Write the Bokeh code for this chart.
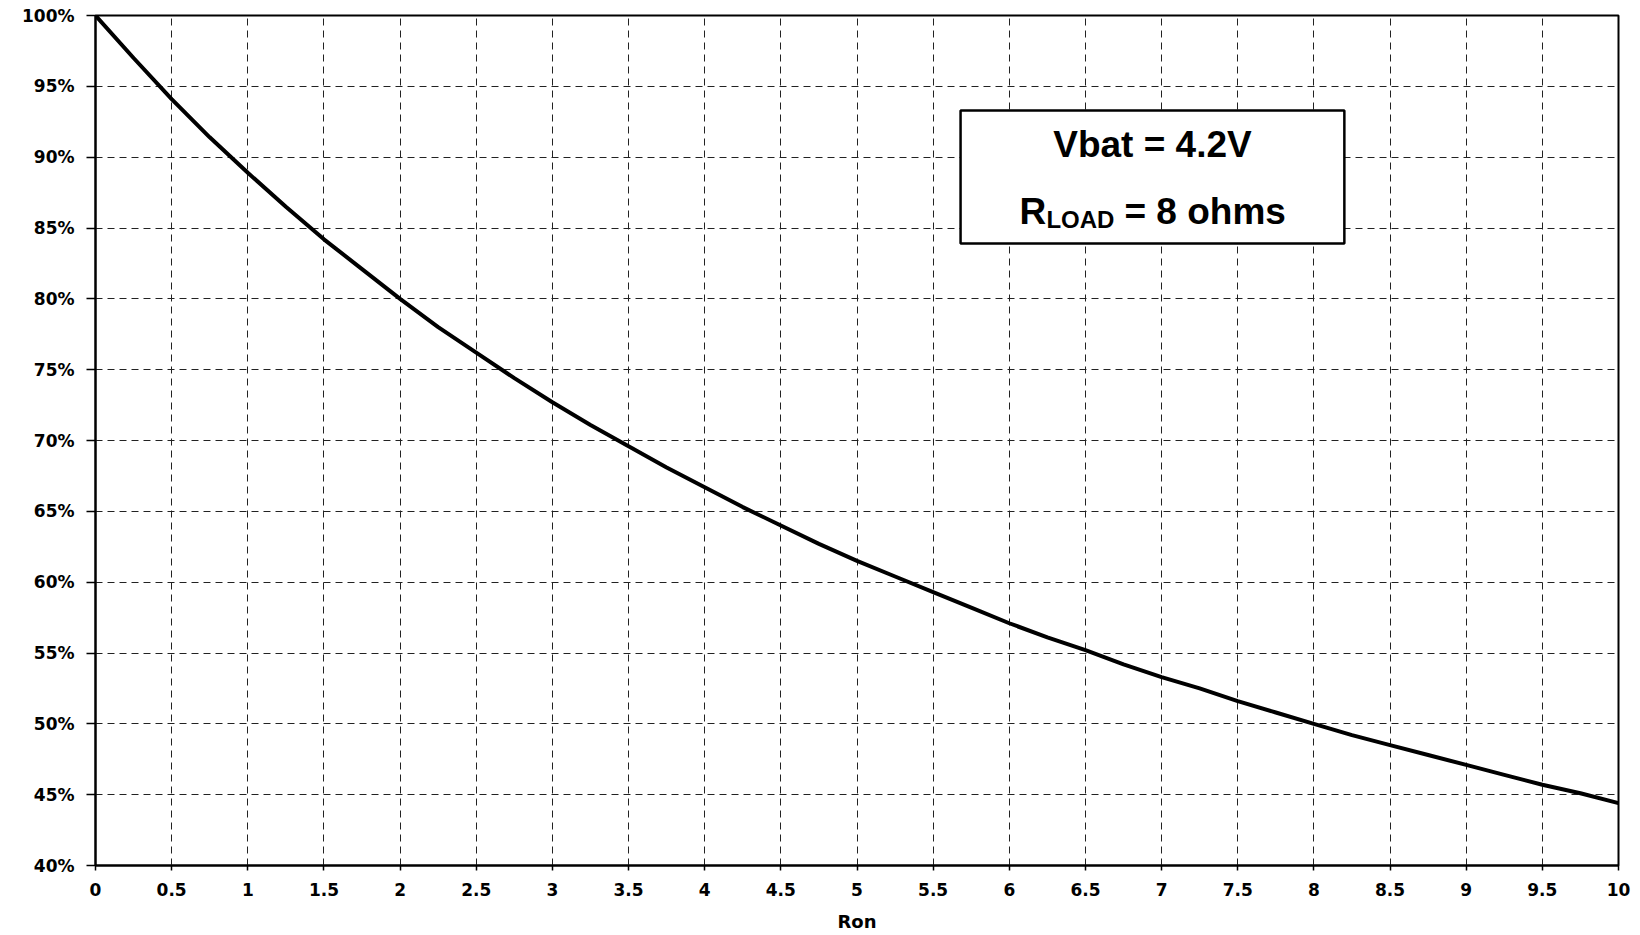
from bokeh.plotting import figure
from bokeh.models import Range1d, FixedTicker, BoxAnnotation, Label
from bokeh.embed import file_html
from bokeh.resources import INLINE

# Data: Ron (ohms) vs efficiency (%)
ron = [0, 0.25, 0.5, 0.75, 1, 1.25, 1.5, 1.75, 2, 2.25, 2.5, 2.75, 3, 3.25, 3.5,
       3.75, 4, 4.25, 4.5, 4.75, 5, 5.25, 5.5, 5.75, 6, 6.25, 6.5, 6.75, 7, 7.25,
       7.5, 7.75, 8, 8.25, 8.5, 8.75, 9, 9.25, 9.5, 9.75, 10]
efficiency = [100.0, 97.0, 94.1, 91.4, 88.9, 86.5, 84.2, 82.1, 80.0, 78.0, 76.2,
              74.4, 72.7, 71.1, 69.6, 68.1, 66.7, 65.3, 64.0, 62.7, 61.5, 60.4,
              59.3, 58.2, 57.1, 56.1, 55.2, 54.2, 53.3, 52.5, 51.6, 50.8, 50.0,
              49.2, 48.5, 47.8, 47.1, 46.4, 45.7, 45.1, 44.4]

x_ticks = [0, 0.5, 1, 1.5, 2, 2.5, 3, 3.5, 4, 4.5, 5, 5.5, 6, 6.5, 7, 7.5, 8, 8.5, 9, 9.5, 10]
x_tick_labels = ["0", "0.5", "1", "1.5", "2", "2.5", "3", "3.5", "4", "4.5", "5",
                 "5.5", "6", "6.5", "7", "7.5", "8", "8.5", "9", "9.5", "10"]
y_ticks = [40, 45, 50, 55, 60, 65, 70, 75, 80, 85, 90, 95, 100]
y_tick_labels = ["40%", "45%", "50%", "55%", "60%", "65%", "70%", "75%", "80%",
                 "85%", "90%", "95%", "100%"]

x_label = "Ron"
note_line1 = "Vbat = 4.2V"
note_r = "R"
note_sub = "LOAD"
note_rest = "= 8 ohms"

# annotation box (data coordinates of the note box)
box_left, box_right, box_bottom, box_top = 5.68, 8.20, 83.9, 93.29

p = figure(width=1640, height=935, output_backend="svg", toolbar_location=None,
           x_range=Range1d(0, 10), y_range=Range1d(40, 100),
           min_border_left=95, min_border_right=22, min_border_top=15,
           min_border_bottom=70)

p.line(ron, efficiency, line_color="black", line_width=4)

for ax in (p.xaxis[0], p.yaxis[0]):
    ax.axis_line_color = "black"
    ax.axis_line_width = 2
    ax.major_tick_line_color = "black"
    ax.major_tick_line_width = 1.5
    ax.major_tick_in = 0
    ax.minor_tick_line_color = None
    ax.major_label_text_font = "DejaVu Sans"
    ax.major_label_text_font_style = "bold"
    ax.major_label_text_font_size = "17px"
    ax.major_label_text_color = "black"

p.xaxis.ticker = FixedTicker(ticks=x_ticks)
p.xaxis.major_label_overrides = {t: l for t, l in zip(x_ticks, x_tick_labels)}
p.yaxis.ticker = FixedTicker(ticks=y_ticks)
p.yaxis.major_label_overrides = {t: l for t, l in zip(y_ticks, y_tick_labels)}
p.xaxis.major_tick_out = 5
p.yaxis.major_tick_out = 9
p.xaxis.major_label_standoff = 12
p.yaxis.major_label_standoff = 12

p.xaxis.axis_label = x_label
p.xaxis.axis_label_text_font = "DejaVu Sans"
p.xaxis.axis_label_text_font_style = "bold"
p.xaxis.axis_label_text_font_size = "18px"
p.xaxis.axis_label_text_color = "black"
p.xaxis.axis_label_standoff = 12

p.xgrid.ticker = FixedTicker(ticks=x_ticks)
p.ygrid.ticker = FixedTicker(ticks=y_ticks)
for g in (p.xgrid[0], p.ygrid[0]):
    g.grid_line_color = "#222222"
    g.grid_line_width = 1
    g.grid_line_dash = "7 5"
    g.grid_line_alpha = 1.0

p.outline_line_color = "black"
p.outline_line_width = 2
p.outline_line_alpha = 1.0
p.background_fill_color = "white"
p.border_fill_color = "white"

box = BoxAnnotation(left=box_left, right=box_right, bottom=box_bottom, top=box_top,
                    fill_color="white", fill_alpha=1.0, line_color="black",
                    line_alpha=1.0, line_width=2.5)
p.add_layout(box)

cx = (box_left + box_right) / 2
cy = (box_bottom + box_top) / 2
font = "Liberation Sans"
common = dict(x=cx, y=cy, text_font=font, text_font_style="bold",
              text_color="black", text_baseline="alphabetic")
p.add_layout(Label(text=note_line1, text_align="center", text_font_size="37px",
                   y_offset=33, **common))
p.add_layout(Label(text=note_r, text_align="left", text_font_size="37px",
                   x_offset=-133, y_offset=-34, **common))
p.add_layout(Label(text=note_sub, text_align="left", text_font_size="24px",
                   x_offset=-106, y_offset=-42, **common))
p.add_layout(Label(text=note_rest, text_align="left", text_font_size="37px",
                   x_offset=-28, y_offset=-34, **common))

open("out.html", "w").write(file_html(p, INLINE))
